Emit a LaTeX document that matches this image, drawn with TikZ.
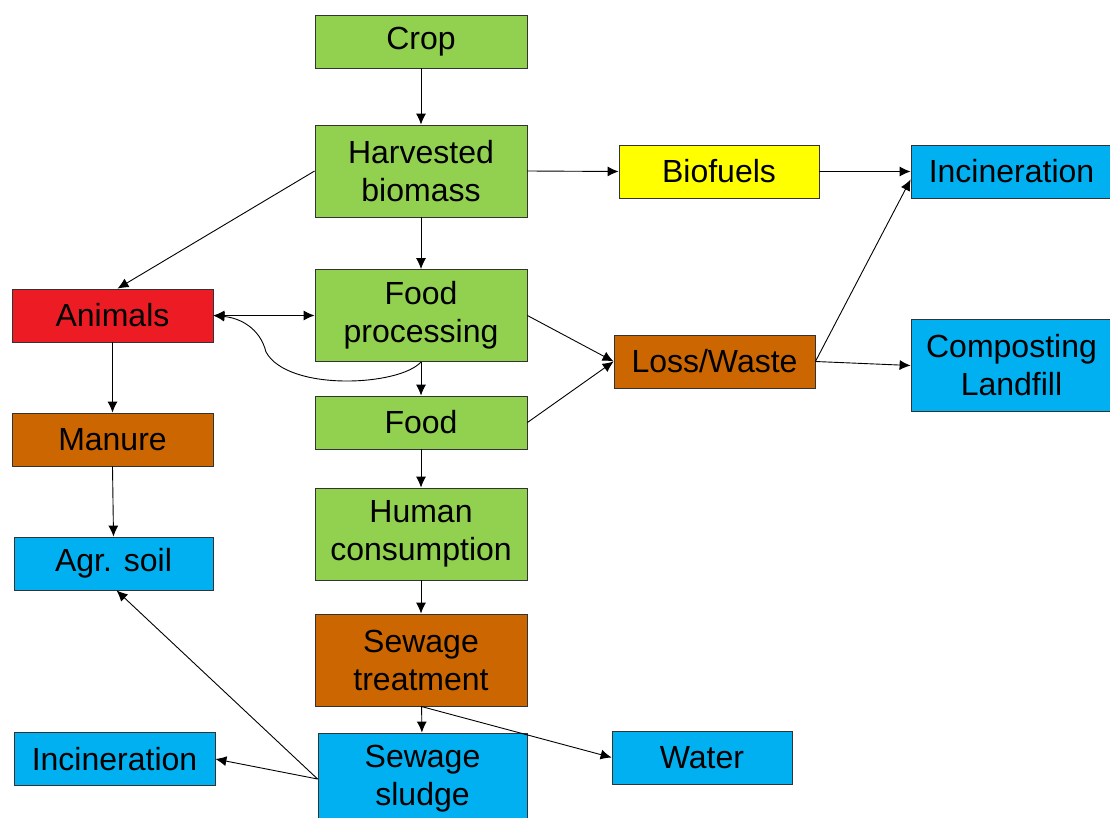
\documentclass[tikz,border=0pt]{standalone}
\usepackage{fontspec}
\setmainfont{Liberation Sans}
\usetikzlibrary{arrows.meta}
\definecolor{plantgreen}{RGB}{146,208,80}
\definecolor{fuelyellow}{RGB}{255,255,0}
\definecolor{animalred}{RGB}{237,28,36}
\definecolor{wastebrown}{RGB}{204,102,0}
\definecolor{sinkblue}{RGB}{0,176,240}

\begin{document}
\begin{tikzpicture}[x=1pt, y=-1pt,
    flowbox/.style={draw=black!80, line width=0.8pt, minimum width=212pt, minimum height=53pt, align=center, inner sep=2pt, font=\fontsize{32}{38}\selectfont},
    tallbox/.style={flowbox, minimum height=92pt},
    narrowbox/.style={flowbox, minimum width=201pt},
    flow/.style={-{Latex[length=11pt,width=10pt]}, line width=0.9pt}
  ]
  \useasboundingbox (0,0) rectangle (1110,818);

  % Main chain
  \node[flowbox, fill=plantgreen] (crop) at (421,41.5) {Crop};
  \node[tallbox, fill=plantgreen] (harvest) at (421,171) {Harvested\\biomass};
  \node[tallbox, fill=plantgreen] (proc) at (421,315.5) {Food\\processing};
  \node[flowbox, fill=plantgreen] (food) at (421,422.5) {Food};
  \node[tallbox, fill=plantgreen] (human) at (421,534) {Human\\consumption};
  \node[tallbox, fill=wastebrown] (sewage) at (421,660) {Sewage\\treatment};
  \node[tallbox, fill=sinkblue, minimum width=209pt] (sludge) at (422.5,779) {Sewage\\sludge};

  % Left side
  \node[narrowbox, fill=animalred] (animals) at (112.5,315.5) {Animals};
  \node[narrowbox, fill=wastebrown] (manure) at (112.5,439.5) {Manure};
  \node[narrowbox, fill=sinkblue, minimum width=199pt] (soil) at (113.5,563.5) {Agr. soil};
  \node[narrowbox, fill=sinkblue] (incinL) at (114.5,759) {Incineration};

  % Right side
  \node[narrowbox, fill=fuelyellow, minimum width=200pt] (biofuels) at (719,171.5) {Biofuels};
  \node[narrowbox, fill=sinkblue] (incinR) at (1011.5,171.5) {Incineration};
  \node[narrowbox, fill=wastebrown] (loss) at (714.5,361.5) {Loss/Waste};
  \node[tallbox, fill=sinkblue, minimum width=201pt] (compost) at (1011.5,365.5) {Composting\\Landfill};
  \node[narrowbox, fill=sinkblue, minimum width=180pt] (water) at (702,757.5) {Water};

  % Flows
  \draw[flow] (crop) -- (harvest);
  \draw[flow] (harvest) -- (proc);
  \draw[flow] (proc) -- (food);
  \draw[flow] (food) -- (human);
  \draw[flow] (human) -- (sewage);
  \draw[flow] (sewage) -- (sludge);
  \draw[flow] (harvest.east) -- (biofuels.west);
  \draw[flow] (biofuels.east) -- (incinR.west);
  \draw[flow] (harvest.west) -- ([xshift=5pt]animals.north);
  \draw[{Latex[length=11pt,width=10pt]}-{Latex[length=11pt,width=10pt]}, line width=0.9pt] (animals.east) -- (proc.west);
  \draw[flow] (proc.south) .. controls (400,386) and (288,392) .. (266,352) .. controls (260,328) and (240,318) .. (animals.east);
  \draw[flow] (proc.east) -- (loss.west);
  \draw[flow] (food.east) -- (loss.west);
  \draw[flow] (loss.east) -- ([yshift=-8pt]incinR.west);
  \draw[flow] (loss.east) -- (compost.west);
  \draw[flow] (animals) -- (manure);
  \draw[flow] (manure.south) -- (soil.north);
  \draw[flow] (sewage.south) -- (water.west);
  \draw[flow] (sludge.west) -- ([xshift=3pt]soil.south);
  \draw[flow] (sludge.west) -- (incinL.east);
\end{tikzpicture}
\end{document}
